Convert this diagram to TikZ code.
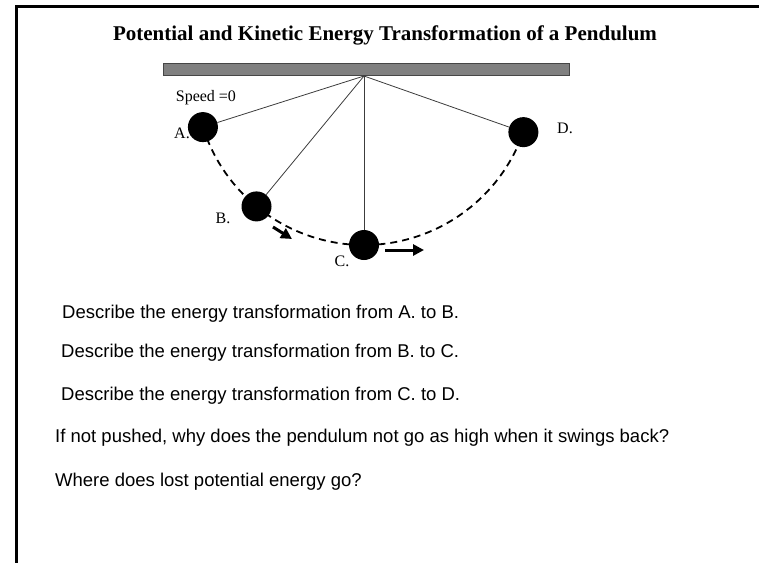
\documentclass[tikz,border=0pt]{standalone}
\usepackage{fontspec}
\setmainfont{Liberation Serif}
\newfontfamily\qfont{Liberation Sans}
\usetikzlibrary{arrows.meta,positioning,calc}
\definecolor{beam}{RGB}{128,128,128}
\definecolor{beamedge}{RGB}{70,70,70}
\definecolor{ropecol}{RGB}{60,60,60}
\tikzset{
  heading/.style={font=\bfseries\fontsize{21}{25}\selectfont, inner sep=0pt},
  support/.style={draw=beamedge, fill=beam, line width=0.8pt, minimum width=406pt, minimum height=12pt, inner sep=0pt},
  bob/.style={circle, fill=black, minimum size=30pt, inner sep=0pt},
  rope/.style={draw=ropecol, line width=0.8pt},
  swing/.style={line width=1.8pt, dash pattern=on 7pt off 5pt},
  push/.style={-{Triangle[length=11pt,width=11pt]}, line width=3pt},
  lbl/.style={font=\fontsize{16}{18}\selectfont, inner sep=1pt},
  ask/.style={anchor=west, font=\qfont\fontsize{18.5}{22}\selectfont, inner sep=0pt},
}

\begin{document}
\begin{tikzpicture}[x=1pt, y=-1pt]
  \useasboundingbox (0,0) rectangle (759,563);
  % page frame
  \draw[line width=3pt] (759,6.5) -- (16,6.5) -- (16,563);
  \node[heading, anchor=base] (title) at (385,40) {Potential and Kinetic Energy Transformation of a Pendulum};
  % pendulum
  \node[support] (beam) at (366,69) {};
  \coordinate (pivot) at (364,76);
  \draw[swing] (pivot) ++(162.4:169) arc[start angle=162.4, end angle=19.4, radius=169];
  \foreach \name/\ang in {A/162.4, B/129.5, C/90, D/19.4}
    \node[bob] (\name) at ($(pivot)+(\ang:169)$) {};
  \foreach \name in {A,B,C,D}
    \draw[rope] (pivot) -- (\name);
  \node[lbl, above=6pt of A, xshift=3pt] (rest) {Speed =0};
  \node[lbl] (labA) at (182,133) {A.};
  \node[lbl] (labB) at (223,218) {B.};
  \node[lbl] (labC) at (342,261) {C.};
  \node[lbl] (labD) at (565,128) {D.};
  \coordinate (pB1) at (273,227); \coordinate (pB2) at (292,239);
  \coordinate (pC1) at (385,250); \coordinate (pC2) at (424,250);
  \draw[push] (pB1) -- (pB2); \draw[push] (pC1) -- (pC2);
  % questions
  \node[ask] (q1) at (62,314) {Describe the energy transformation from A. to B.};
  \node[ask] (q2) at (61,353) {Describe the energy transformation from B. to C.};
  \node[ask] (q3) at (61,396) {Describe the energy transformation from C. to D.};
  \node[ask] (q4) at (55,438) {If not pushed, why does the pendulum not go as high when it swings back?};
  \node[ask] (q5) at (55,482) {Where does lost potential energy go?};
\end{tikzpicture}
\end{document}
